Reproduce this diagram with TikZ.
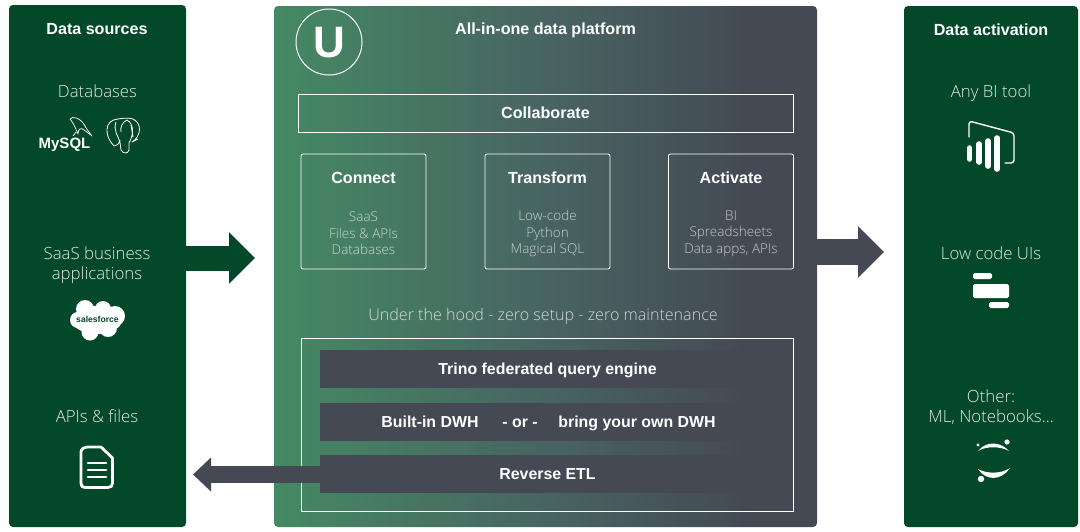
\documentclass[tikz,border=0pt]{standalone}
\usepackage{fontspec}
\setmainfont{Liberation Sans}
\newfontfamily\lightfont{Open Sans Light}
\usetikzlibrary{arrows.meta}
\definecolor{panelgreen}{RGB}{3,73,41}
\definecolor{slate}{RGB}{68,73,84}
\definecolor{midslate}{RGB}{72,100,98}
\definecolor{platgreen}{RGB}{69,137,99}
\pgfdeclarehorizontalshading{platshade}{100bp}{color(0bp)=(platgreen); color(25bp)=(platgreen); color(50bp)=(midslate); color(69bp)=(slate); color(100bp)=(slate)}
\tikzset{
  panel/.style={fill=panelgreen, rounded corners=2pt, inner sep=0pt},
  frame/.style={draw=white, line width=.45pt, inner sep=0pt},
  toolbox/.style={frame, rounded corners=1pt, minimum width=62.5pt, minimum height=57.5pt},
  querybar/.style={fill=slate, inner sep=0pt, minimum width=227.5pt, minimum height=19pt, text=white, text height=6pt, text depth=.4pt, font=\fontsize{7.95}{10}\selectfont\bfseries},
  headtxt/.style={text=white, font=\fontsize{8.05}{10}\selectfont\bfseries},
  itemtxt/.style={text=white, opacity=.88, align=center, font=\fontsize{8.4}{10}\selectfont\lightfont},
  subtxt/.style={text=white, opacity=.7, align=center, font=\fontsize{6.75}{8.2}\selectfont\lightfont},
  icon/.style={white, line width=1.4pt, line cap=round, line join=round}
}
\begin{document}
\begin{tikzpicture}[x=.5pt, y=-.5pt]
    \useasboundingbox (0,0) rectangle (1080,531);
    \node[panel, minimum width=88.5pt, minimum height=261pt] (sources) at (97.5,266) {};
    \node[panel, minimum width=87pt, minimum height=260.5pt] (activation) at (991,266.5) {};
    \node[shading=platshade, rounded corners=2pt, inner sep=0pt, minimum width=271.5pt, minimum height=260.5pt] (platform) at (545.5,266.5) {};

    \coordinate (intip) at (255,258);
    \coordinate (outtip) at (884,252);
    \coordinate (backtip) at (193,474.5);
    \draw[panelgreen, line width=12.5pt, -{Triangle[length=13pt, width=25pt]}] (sources.east |- intip) -- (intip);
    \draw[slate, line width=13pt, -{Triangle[length=13pt, width=25pt]}] (platform.east |- outtip) -- (outtip);

    % side panels
    \node[headtxt] (srctitle) at (97,29.5) {Data sources};
    \node[itemtxt] (dbs) at (97.5,91) {Databases};
    \node[itemtxt] (saas) at (97,265) {SaaS business\\applications};
    \node[itemtxt] (apis) at (97,416) {APIs \& files};
    \node[headtxt] (acttitle) at (991,29.5) {Data activation};
    \node[itemtxt] (bitool) at (991,93) {Any BI tool};
    \node[itemtxt] (lowcode) at (991,253) {Low code UIs};
    \node[itemtxt] (other) at (991,407) {Other:\\ML, Notebooks...};

    % platform
    \draw[white, line width=.5pt] (329,42) circle (33);
    \node[text=white, font=\fontsize{22}{22}\selectfont\bfseries] (logo) at (329,42.5) {U};
    \node[headtxt] (plattitle) at (545.5,30.5) {All-in-one data platform};
    \node[frame, minimum width=247.5pt, minimum height=19pt, headtxt] (collab) at (545.5,113) {Collaborate};
    \foreach \name/\cx/\title/\lines in {connect/363.5/Connect/{SaaS\\Files \& APIs\\Databases},
        transform/547.5/Transform/{Low-code\\Python\\Magical SQL},
        activate/731/Activate/{BI\\Spreadsheets\\Data apps, APIs}} {
      \node[toolbox] (\name) at (\cx,211.5) {};
      \node[headtxt] (\name title) at (\cx,177.5) {\title};
      \node[subtxt] (\name items) at (\cx,233.5) {\lines};
    }
    \node[itemtxt, opacity=.75, font=\fontsize{8.05}{10}\selectfont\lightfont] (hood) at (543,316) {Under the hood - zero setup - zero maintenance};
    \node[frame, minimum width=246pt, minimum height=86.5pt] (engine) at (547,424.5) {};
    \node[querybar] (trino) at (547.5,369) {Trino federated query engine};
    \node[querybar] (dwh) at (547.5,421.5) {};
    \foreach \wname/\wx/\wtext in {builtin/430/Built-in DWH, ordwh/520/- or -, ownwh/637/bring your own DWH}
      \node[querybar, fill=none, minimum width=0pt] (\wname) at (\wx,421.5) {\wtext};
    \node[querybar] (retl) at (547.5,474) {Reverse ETL};
    \draw[slate, line width=8.5pt, -{Triangle[length=9pt, width=16.5pt]}] (retl.west |- backtip) -- (backtip);

    % icons
    \node[text=white, font=\fontsize{7.5}{8}\selectfont\bfseries, inner sep=0pt] (mysql) at (64.5,144.5) {MySQL};
    \draw[white, line width=.35pt, line join=round] (70,119) .. controls (72,116) and (80,117) .. (85,126)
      .. controls (87,130) and (90,133) .. (92,136) .. controls (88,133) and (86,131) .. (84,130)
      .. controls (81,127) and (78,129) .. (78,134) -- (75,127) .. controls (74,124) and (72,122) .. (70,119)
      (76,132) -- (73,136);
    \draw[white, line width=.4pt, line join=round] (114,146) .. controls (104,136) and (104,120) .. (118,119)
      .. controls (124,118) and (134,117) .. (137,122) .. controls (142,128) and (139,138) .. (132,142) -- (138,139)
      (116,122) .. controls (113,130) and (118,136) .. (120,142) -- (121,150) .. controls (123,154) and (128,154) .. (129,150)
      -- (129,143) .. controls (134,134) and (134,124) .. (127,120) .. controls (122,122) and (120,128) .. (121,132)
      (114,146) .. controls (117,146) and (119,144) .. (120,140) (131,125) -- (133,137);
    \fill[white] (97,320) ellipse (25 and 14) (85,309) circle (9) (103,309) circle (8) (115,316) circle (10)
      (78,320) circle (8) (90,332) circle (8.5) (108,328) circle (9);
    \node[text=panelgreen, font=\fontsize{4.3}{5}\selectfont\bfseries, inner sep=0pt] (sforce) at (97.5,319.5) {salesforce};
    \draw[icon] (88,447) -- (101,447) -- (112.5,458) -- (112.5,483) .. controls (112.5,486) and (111,487.5) .. (108,487.5)
      -- (85,487.5) .. controls (82,487.5) and (81,486) .. (81,483) -- (81,452) .. controls (81,449) and (84,447) .. (88,447);
    \foreach \ly in {463,470,477} \draw[icon] (88,\ly) -- (106,\ly);

    \draw[white, line width=.7pt, line cap=round, line join=round, rounded corners=1.5pt] (969,137) -- (969,121) -- (1014,133) -- (1014,163) -- (1005,163);
    \foreach \bx/\bt/\bb in {969.5/148/159, 979/144/162, 988/141/166, 997/138/169}
      \draw[white, line width=2.8pt, line cap=round] (\bx,\bt) -- (\bx,\bb);
    \foreach \ax/\ay/\bx/\by in {973/273/992/279, 973/284/1009/298, 989/302/1009/308}
      \fill[white, rounded corners=.8pt] (\ax,\ay) rectangle (\bx,\by);

    \fill[white] (978,451) .. controls (986,441) and (1000,441) .. (1009,451) .. controls (1000,446) and (986,446) .. (978,451);
    \fill[white] (978,469) .. controls (986,481) and (1001,481) .. (1010,468) .. controls (1001,474) and (987,474) .. (978,469);
    \fill[white] (1007,442) circle (2.6) (978,445) circle (1.6) (981,479) circle (3.2);
  \end{tikzpicture}
\end{document}
